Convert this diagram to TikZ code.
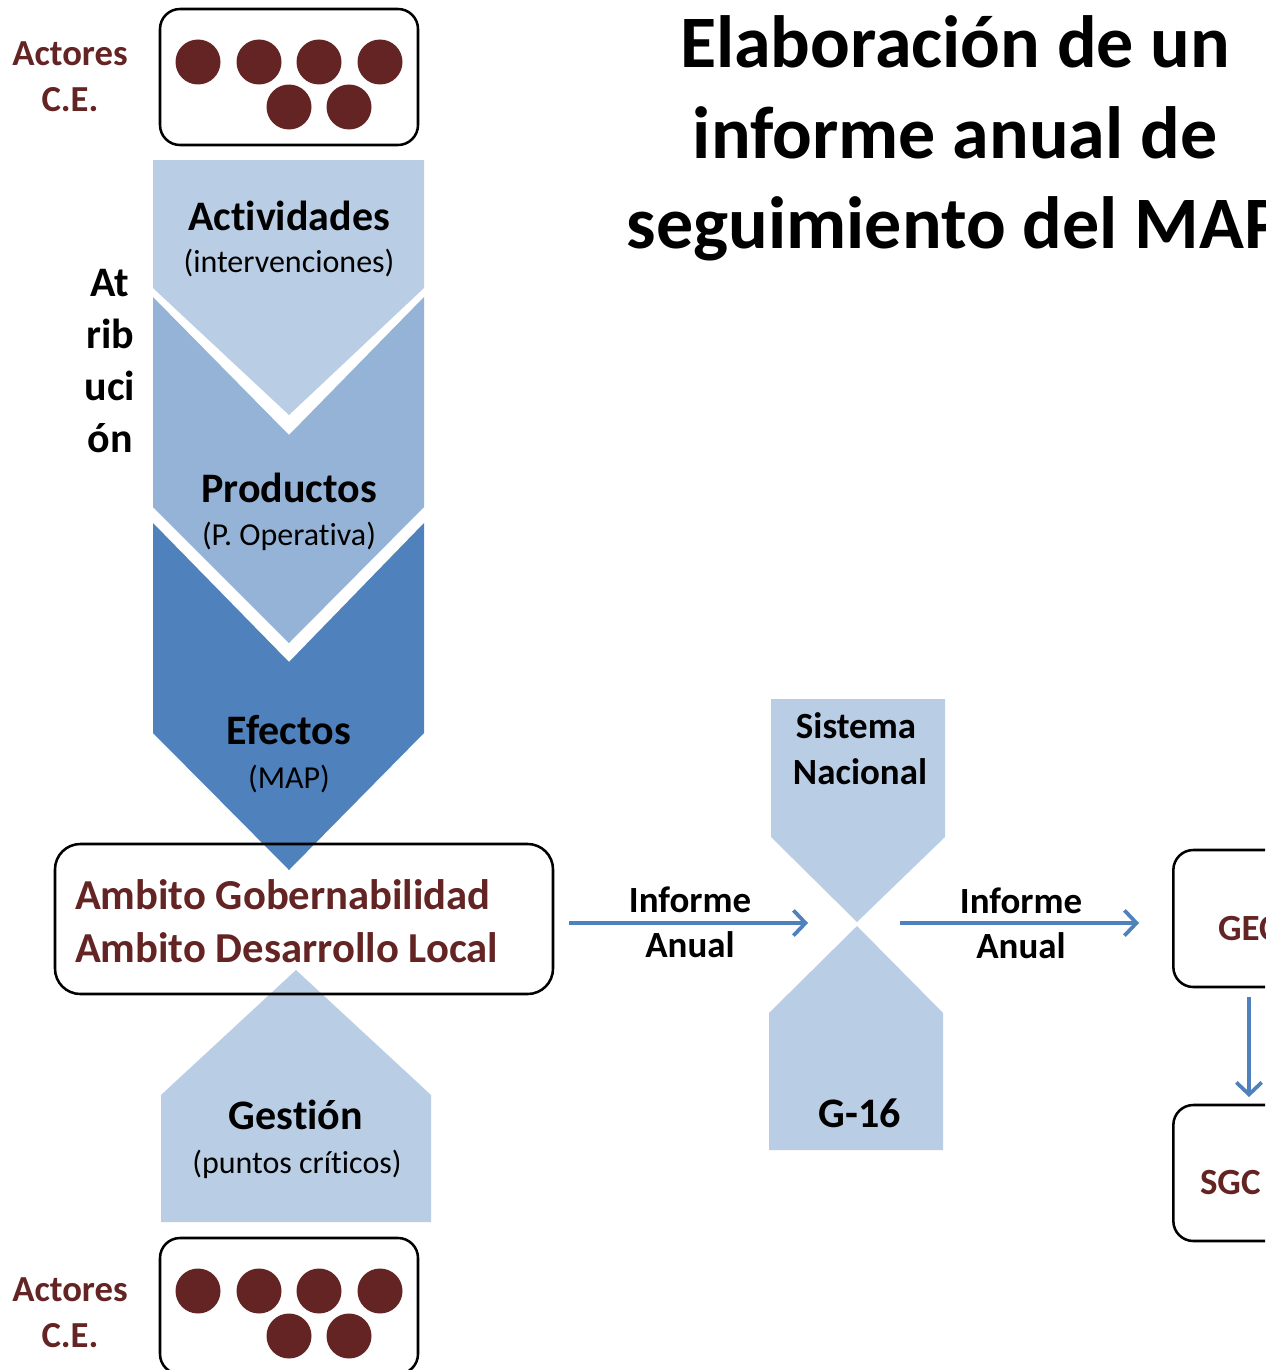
\documentclass[tikz,border=0pt]{standalone}
\usepackage{fontspec}
\setmainfont{Carlito}[Ligatures=NoCommon]
\usetikzlibrary{arrows.meta}
\definecolor{dred}{HTML}{632423}
\definecolor{bla}{HTML}{B9CDE5}
\definecolor{blb}{HTML}{95B3D7}
\definecolor{blc}{HTML}{4F81BD}
\tikzset{
  txt/.style={anchor=base, inner sep=0pt, outer sep=0pt},
  head/.style={txt, font=\bfseries\fontsize{31.5}{36}\selectfont},
  subt/.style={txt, font=\fontsize{24}{28}\selectfont},
  actor/.style={txt, text=dred, font=\bfseries\fontsize{27.5}{32}\selectfont},
  amb/.style={txt, anchor=base west, text=dred, font=\bfseries\fontsize{32}{36}\selectfont},
  inf/.style={txt, font=\bfseries\fontsize{27.7}{32}\selectfont},
  ttl/.style={txt, font=\bfseries\fontsize{55.5}{60}\selectfont},
  ball/.style={circle, fill=dred, minimum size=33.75pt, inner sep=0pt},
  rbox/.style={draw=black, line width=1.9pt, rounded corners=15pt, inner sep=0pt},
  arr/.style={draw=blc, line width=2.8pt, -{Straight Barb[length=9pt,width=19pt]}},
}
\begin{document}
\begin{tikzpicture}[x=0.75pt,y=-0.75pt]
\useasboundingbox (0,0) rectangle (1265,1370);
\clip (0,0) rectangle (1265,1370);
\fill[white] (0,0) rectangle (1265,1370);

% title
\node[ttl] (t1) at (955,68) {Elaboración de un};
\node[ttl] (t2) at (955,158) {informe anual de};
\node[ttl] (t3) at (955,248) {seguimiento del MAP};

% top actors
\node[rbox, minimum width=193.5pt, minimum height=102pt] (topbox) at (289,77) {};
\foreach \n/\x/\y in {a/198/62, b/259/62, c/319/62, d/380/62, e/289/107, f/349/107}
  \node[ball] (top\n) at (\x,\y) {};
\node[actor] (act1) at (70,65) {Actores};
\node[actor] (ce1) at (70,112) {C.E.};

% chevrons
\fill[bla] (153,160) -- (424,160) -- (424,288) -- (289,415) -- (153,288) -- cycle;
\fill[blb] (153,297) -- (289,435) -- (424,297) -- (424,507) -- (289,643) -- (153,507) -- cycle;
\fill[blc] (153,523) -- (289,662) -- (424,523) -- (424,733) -- (289,870) -- (153,733) -- cycle;
\node[head] (actv) at (289,230) {Actividades};
\node[subt] (interv) at (289,272) {(intervenciones)};
\node[head] (prod) at (289,502) {Productos};
\node[subt] (pop) at (289,545) {(P. Operativa)};
\node[head] (efec) at (289,744) {Efectos};
\node[subt] (map) at (289,788) {(MAP)};

% atribucion
\node[head] (at1) at (110,296) {At};
\node[head] (at2) at (110,348) {rib};
\node[head] (at3) at (110,400) {uci};
\node[head] (at4) at (110,452) {ón};

% gestion
\fill[bla] (296,970) -- (431,1095) -- (431,1222) -- (161,1222) -- (161,1095) -- cycle;
\node[head] (gest) at (296,1129) {Gestión};
\node[subt] (pc) at (297,1173) {(puntos críticos)};

% ambito box
\node[rbox, rounded corners=19pt, minimum width=373.5pt, minimum height=112.5pt] (ambbox) at (304,919) {};
\node[amb] (amb1) at (75,909) {Ambito Gobernabilidad};
\node[amb] (amb2) at (75,962) {Ambito Desarrollo Local};

% bottom actors
\node[rbox, minimum width=193.5pt, minimum height=102pt] (botbox) at (289,1306) {};
\foreach \n/\x/\y in {a/198/1291, b/259/1291, c/319/1291, d/380/1291, e/289/1336, f/349/1336}
  \node[ball] (bot\n) at (\x,\y) {};
\node[actor] (act2) at (70,1301) {Actores};
\node[actor] (ce2) at (70,1347) {C.E.};

% hourglass
\fill[bla] (771,699) -- (945,699) -- (945,837) -- (857,922) -- (771,837) -- cycle;
\fill[bla] (857,926) -- (943,1013) -- (943,1150) -- (769,1150) -- (769,1013) -- cycle;
\node[inf] (sis) at (856,738) {Sistema};
\node[inf] (nac) at (860,784) {Nacional};
\node[head] (g16) at (860,1127) {G-16};

% right boxes
\node[rbox, minimum width=112pt, minimum height=102.75pt] (gec) at (1248,918.5) {};
\node[rbox, minimum width=112pt, minimum height=102pt] (sgc) at (1248,1173) {};
\node[inf, anchor=base west, text=dred] (gect) at (1218,940) {GEC};
\node[inf, anchor=base west, text=dred] (sgct) at (1200,1194) {SGC};

% arrows
\coordinate (a1s) at (569,923);
\coordinate (a1e) at (808,923);
\coordinate (a2s) at (900,923);
\coordinate (a2e) at (1139,923);
\coordinate (a3s) at (1249,997);
\coordinate (a3e) at (1249,1097);
\draw[arr] (a1s) -- (a1e);
\draw[arr] (a2s) -- (a2e);
\draw[arr] (a3s) -- (a3e);
\node[inf] (inf1) at (690,912) {Informe};
\node[inf] (an1) at (690,957) {Anual};
\node[inf] (inf2) at (1021,913) {Informe};
\node[inf] (an2) at (1021,958) {Anual};
\end{tikzpicture}
\end{document}
